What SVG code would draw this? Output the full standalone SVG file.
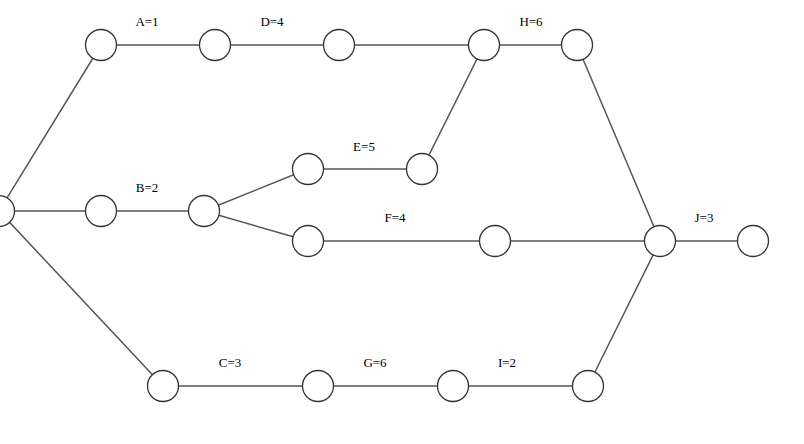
<svg xmlns="http://www.w3.org/2000/svg" width="804" height="444" viewBox="0 0 804 444">
<style>
.c{fill:#fff;stroke:#333;stroke-width:1.3}
.e{stroke:#555;stroke-width:1.5;fill:none}
.t{font-family:"Liberation Serif",serif;font-size:13px;fill:#000;text-anchor:middle}
</style>
<rect width="804" height="444" fill="#fff"/>
<g id="connectors">
<line class="e" x1="-1" y1="211" x2="101" y2="45"/>
<line class="e" x1="-1" y1="211" x2="101" y2="211"/>
<line class="e" x1="-1" y1="211" x2="163" y2="386"/>
<line class="e" x1="101" y1="45" x2="215" y2="45"/>
<line class="e" x1="215" y1="45" x2="339" y2="45"/>
<line class="e" x1="339" y1="45" x2="484" y2="45"/>
<line class="e" x1="484" y1="45" x2="577" y2="45"/>
<line class="e" x1="101" y1="211" x2="204" y2="211"/>
<line class="e" x1="204" y1="211" x2="308" y2="169"/>
<line class="e" x1="204" y1="211" x2="308" y2="241"/>
<line class="e" x1="308" y1="169" x2="422" y2="169"/>
<line class="e" x1="422" y1="169" x2="484" y2="45"/>
<line class="e" x1="308" y1="241" x2="495" y2="241"/>
<line class="e" x1="495" y1="241" x2="660" y2="241"/>
<line class="e" x1="577" y1="45" x2="660" y2="241"/>
<line class="e" x1="660" y1="241" x2="753" y2="241"/>
<line class="e" x1="163" y1="386" x2="318" y2="386"/>
<line class="e" x1="318" y1="386" x2="453" y2="386"/>
<line class="e" x1="453" y1="386" x2="588" y2="386"/>
<line class="e" x1="588" y1="386" x2="660" y2="241"/>
</g>
<g id="n0"><circle class="c" cx="-1" cy="211" r="15.5"/></g>
<g id="n1"><circle class="c" cx="101" cy="45" r="15.5"/></g>
<g id="n2"><circle class="c" cx="215" cy="45" r="15.5"/></g>
<g id="n3"><circle class="c" cx="339" cy="45" r="15.5"/></g>
<g id="n4"><circle class="c" cx="484" cy="45" r="15.5"/></g>
<g id="n5"><circle class="c" cx="577" cy="45" r="15.5"/></g>
<g id="n6"><circle class="c" cx="101" cy="211" r="15.5"/></g>
<g id="n7"><circle class="c" cx="204" cy="211" r="15.5"/></g>
<g id="n8"><circle class="c" cx="308" cy="169" r="15.5"/></g>
<g id="n9"><circle class="c" cx="422" cy="169" r="15.5"/></g>
<g id="n10"><circle class="c" cx="308" cy="241" r="15.5"/></g>
<g id="n11"><circle class="c" cx="495" cy="241" r="15.5"/></g>
<g id="n12"><circle class="c" cx="660" cy="241" r="15.5"/></g>
<g id="n13"><circle class="c" cx="753" cy="241" r="15.5"/></g>
<g id="n14"><circle class="c" cx="163" cy="386" r="15.5"/></g>
<g id="n15"><circle class="c" cx="318" cy="386" r="15.5"/></g>
<g id="n16"><circle class="c" cx="453" cy="386" r="15.5"/></g>
<g id="n17"><circle class="c" cx="588" cy="386" r="15.5"/></g>
<g id="labels">
<text class="t" x="147" y="26">A=1</text>
<text class="t" x="272" y="26">D=4</text>
<text class="t" x="531" y="26">H=6</text>
<text class="t" x="364" y="151">E=5</text>
<text class="t" x="147" y="192">B=2</text>
<text class="t" x="395" y="222">F=4</text>
<text class="t" x="704" y="222">J=3</text>
<text class="t" x="230" y="367">C=3</text>
<text class="t" x="375" y="367">G=6</text>
<text class="t" x="507" y="367">I=2</text>
</g>
</svg>
